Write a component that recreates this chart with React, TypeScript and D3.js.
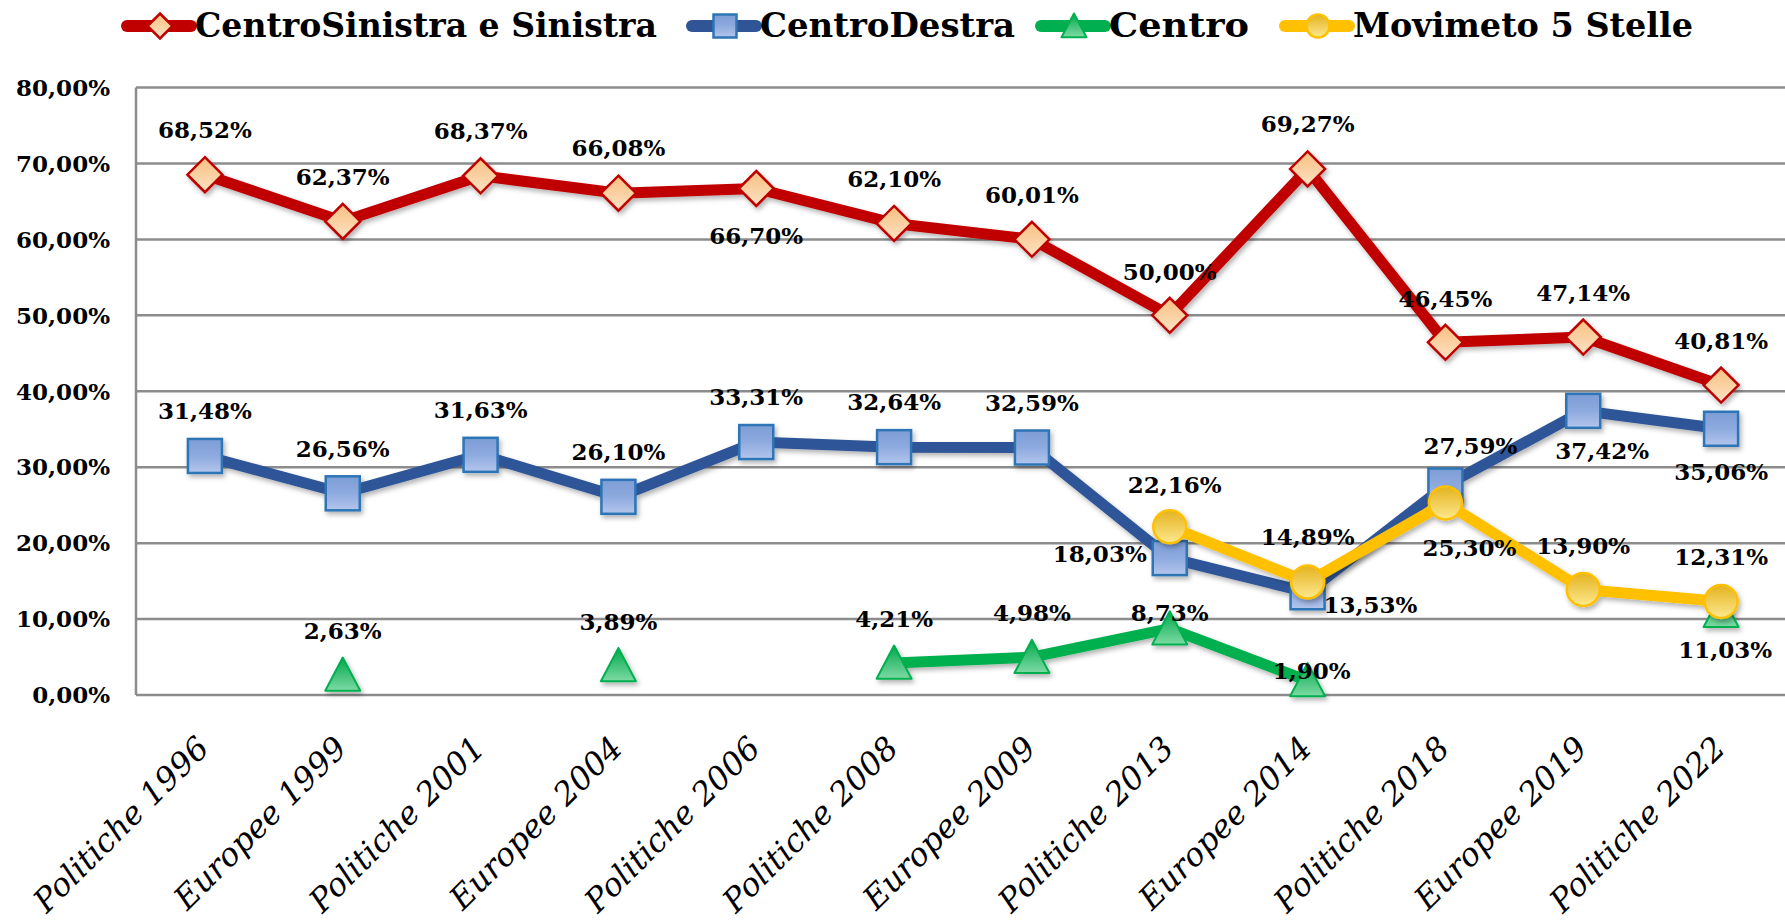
import * as d3 from 'd3';

// dati
const categories = [
  'Politiche 1996', 'Europee 1999', 'Politiche 2001', 'Europee 2004',
  'Politiche 2006', 'Politiche 2008', 'Europee 2009', 'Politiche 2013',
  'Europee 2014', 'Politiche 2018', 'Europee 2019', 'Politiche 2022',
];
const centroSinistra = [68.52, 62.37, 68.37, 66.08, 66.70, 62.10, 60.01, 50.00, 69.27, 46.45, 47.14, 40.81];
const centroDestra = [31.48, 26.56, 31.63, 26.10, 33.31, 32.64, 32.59, 18.03, 13.53, 27.59, 37.42, 35.06];
const centro = [null, 2.63, null, 3.89, null, 4.21, 4.98, 8.73, 1.90, null, null, 11.03];
const movimento5s = [null, null, null, null, null, null, null, 22.16, 14.89, 25.30, 13.90, 12.31];
const yTicks = [0, 10, 20, 30, 40, 50, 60, 70, 80];

// posizione delle etichette rispetto al punto [dx, dy]
const csLabelPos = [[0, -45], [0, -45], [0, -45], [0, -45], [0, 47], [0, -45], [0, -45], [0, -44], [0, -45], [0, -44], [0, -44], [0, -44]];
const cdLabelPos = [[0, -45], [0, -45], [0, -45], [0, -45], [0, -45], [0, -45], [0, -45], ['l', -4], ['r', 12], [25, -40], [19, 40], [0, 43]];
const ceLabelPos = [null, [0, -44], null, [0, -44], null, [0, -44], [0, -44], [0, -16], [4, -10], null, null, [4, 38]];
const m5sLabelPos = [null, null, null, null, null, null, null, [5, -42], [0, -45], [24, 45], [0, -44], [0, -45]];

const W = 1785;
const H = 923;

const x = d3.scalePoint<string>().domain(categories).range([136, 1790]).padding(0.5);
const y = d3.scaleLinear().domain([0, 80]).range([695, 87.5]);

const fmt = (v: number) => v.toFixed(2).replace('.', ',') + '%';
const labelFont = "'DejaVu Serif', serif";

type Marker = 'diamond' | 'square' | 'triangle' | 'circle';

const series = [
  { name: 'CentroSinistra e Sinistra', values: centroSinistra, pos: csLabelPos, color: '#c00000', marker: 'diamond' as Marker, legendX: 127, textW: 462 },
  { name: 'CentroDestra', values: centroDestra, pos: cdLabelPos, color: '#2f5597', marker: 'square' as Marker, legendX: 692, textW: 255 },
  { name: 'Centro', values: centro, pos: ceLabelPos, color: '#00b050', marker: 'triangle' as Marker, legendX: 1041, textW: 140 },
  { name: 'Movimeto 5 Stelle', values: movimento5s, pos: m5sLabelPos, color: '#ffc000', marker: 'circle' as Marker, legendX: 1285, textW: 340 },
];

function MarkerShape({ type, cx, cy, s }: { type: Marker; cx: number; cy: number; s: number }) {
  if (type === 'diamond') {
    const h = s / 2;
    return (
      <path
        d={`M${cx},${cy - h}L${cx + h},${cy}L${cx},${cy + h}L${cx - h},${cy}Z`}
        fill="url(#gDiamond)" stroke="#c00000" strokeWidth={2.5} strokeLinejoin="miter"
      />
    );
  }
  if (type === 'square') {
    const h = s / 2 - 1;
    return <rect x={cx - h} y={cy - h} width={h * 2} height={h * 2} fill="url(#gSquare)" stroke="#2e75b6" strokeWidth={2.5} />;
  }
  if (type === 'triangle') {
    const h = s / 2;
    return (
      <path
        d={`M${cx},${cy - h}L${cx + h},${cy + h * 0.9}L${cx - h},${cy + h * 0.9}Z`}
        fill="url(#gTriangle)" stroke="#00b050" strokeWidth={2} strokeLinejoin="round"
      />
    );
  }
  return <circle cx={cx} cy={cy} r={s / 2 - 1} fill="url(#gCircle)" stroke="#ffc000" strokeWidth={2.5} />;
}

export default function App() {
  const plotRight = W;
  const plotLeft = 136;

  const line = d3
    .line<number | null>()
    .defined((d) => d !== null)
    .x((_, i) => x(categories[i]) as number)
    .y((d) => y(d as number));

  return (
    <svg
      width={W}
      height={H}
      viewBox={`0 0 ${W} ${H}`}
      style={{ position: 'absolute', left: 0, top: 0, background: '#fff' }}
    >
      <defs>
        <linearGradient id="gDiamond" x1="0" y1="0" x2="0" y2="1">
          <stop offset="0" stopColor="#f8bf80" />
          <stop offset="1" stopColor="#fde2c4" />
        </linearGradient>
        <linearGradient id="gSquare" x1="0" y1="0" x2="0" y2="1">
          <stop offset="0" stopColor="#7d9dd6" />
          <stop offset="0.5" stopColor="#8eaadf" />
          <stop offset="1" stopColor="#b3c6ec" />
        </linearGradient>
        <linearGradient id="gTriangle" x1="0" y1="0" x2="0" y2="1">
          <stop offset="0" stopColor="#00a84c" />
          <stop offset="1" stopColor="#7edaa4" />
        </linearGradient>
        <linearGradient id="gCircle" x1="0" y1="0" x2="0" y2="1">
          <stop offset="0" stopColor="#e4b21e" />
          <stop offset="1" stopColor="#fde98e" />
        </linearGradient>
        <filter id="shadow" x="-20%" y="-20%" width="140%" height="140%">
          <feDropShadow dx="2" dy="3" stdDeviation="2.5" floodColor="#000" floodOpacity="0.3" />
        </filter>
      </defs>

      {/* legenda */}
      <g>
        {series.map((s) => {
          const lx = s.legendX;
          const cy = 26;
          return (
            <g key={s.name}>
              <line x1={lx} x2={lx + 64} y1={cy} y2={cy} stroke={s.color} strokeWidth={12} strokeLinecap="round" />
              <MarkerShape type={s.marker} cx={lx + 33} cy={cy} s={25} />
              <text
                x={lx + 68}
                y={37}
                fontFamily="'DejaVu Serif Condensed', 'DejaVu Serif', serif"
                fontWeight="bold"
                fontSize={33}
                textLength={s.textW}
                lengthAdjust="spacingAndGlyphs"
                fill="#000"
              >
                {s.name}
              </text>
            </g>
          );
        })}
      </g>

      {/* griglia */}
      <g>
        {yTicks.map((t) => (
          <line key={t} x1={plotLeft} x2={plotRight} y1={y(t)} y2={y(t)} stroke="#8c8c8c" strokeWidth={2.5} />
        ))}
        <line x1={plotLeft} x2={plotLeft} y1={y(80)} y2={y(0)} stroke="#8c8c8c" strokeWidth={2.5} />
      </g>

      {/* asse y */}
      <g fontFamily={labelFont} fontWeight="bold" fontSize={23} fill="#000">
        {yTicks.map((t) => (
          <text key={t} x={110} y={y(t)} dy="0.36em" textAnchor="end">
            {fmt(t)}
          </text>
        ))}
      </g>

      {/* asse x */}
      <g fontFamily={labelFont} fontStyle="italic" fontSize={32} fill="#000">
        {categories.map((c) => {
          const cx = (x(c) as number) + 6;
          const cy = 750;
          return (
            <text key={c} x={cx} y={cy} textAnchor="end" transform={`rotate(-45 ${cx} ${cy})`}>
              {c}
            </text>
          );
        })}
      </g>

      {/* serie */}
      {series.map((s) => (
        <g key={s.name} filter="url(#shadow)">
          <path d={line(s.values) || ''} fill="none" stroke={s.color} strokeWidth={11} strokeLinejoin="round" />
          {s.values.map((v, i) =>
            v === null ? null : (
              <MarkerShape key={i} type={s.marker} cx={x(categories[i]) as number} cy={y(v)} s={s.marker === 'square' ? 36 : 35} />
            ),
          )}
        </g>
      ))}

      {/* etichette dati */}
      <g fontFamily={labelFont} fontWeight="bold" fontSize={23} fill="#000">
        {series.map((s) =>
          s.values.map((v, i) => {
            const p = s.pos[i];
            if (v === null || !p) return null;
            const px = x(categories[i]) as number;
            const py = y(v);
            let anchor = 'middle';
            let tx = px;
            if (p[0] === 'l') {
              anchor = 'end';
              tx = px - 23;
            } else if (p[0] === 'r') {
              anchor = 'start';
              tx = px + 16;
            } else {
              tx = px + (p[0] as number);
            }
            return (
              <text key={s.name + i} x={tx} y={py + (p[1] as number)} dy="0.36em" textAnchor={anchor}>
                {fmt(v)}
              </text>
            );
          }),
        )}
      </g>
    </svg>
  );
}
